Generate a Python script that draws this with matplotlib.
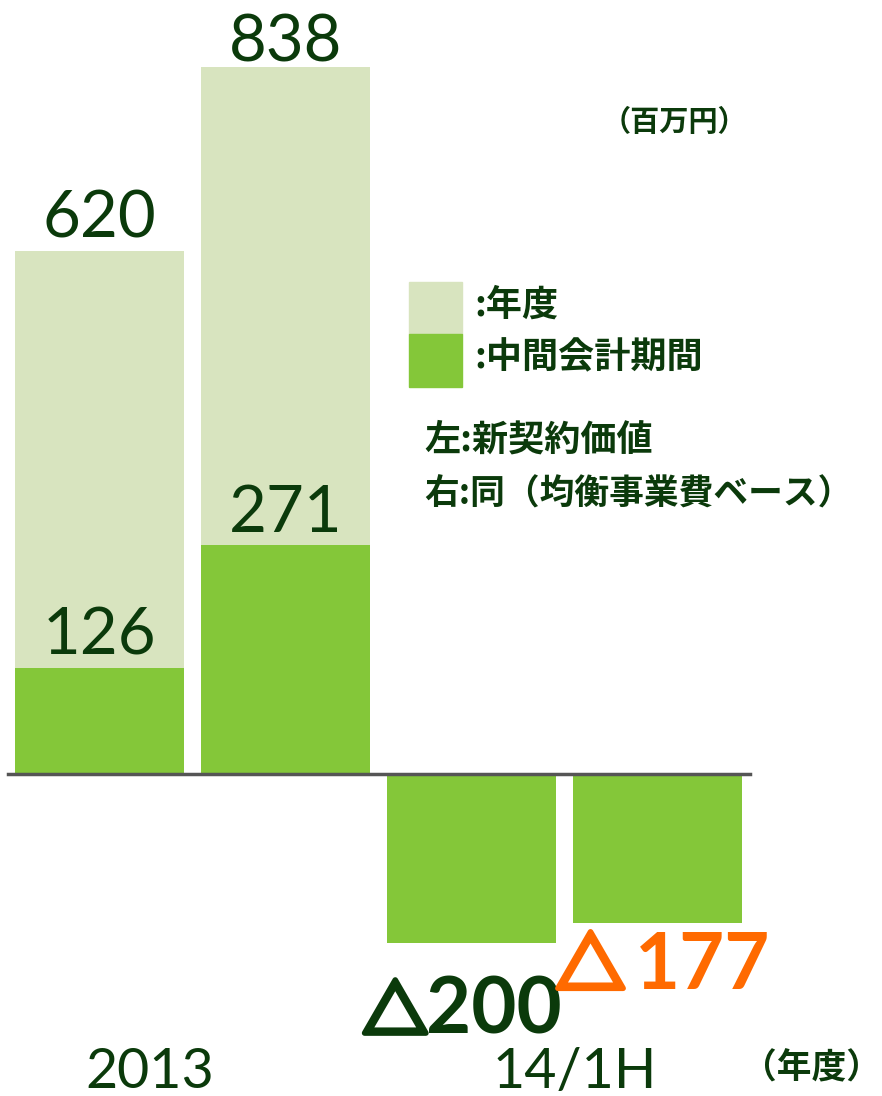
import matplotlib
matplotlib.use("Agg")
import matplotlib.pyplot as plt
from matplotlib.patches import Rectangle
import matplotlib.patheffects as pe

categories = ["2013", "14/1H"]
annual = [620, 838]
interim = [126, 271, -200, -177]
annual_labels = ["620", "838"]
interim_labels = ["126", "271", "200", "177"]

LIGHT = "#D8E4BF"
GREEN = "#84C739"
TEXT = "#0B3A0B"
ORANGE = "#FF6A00"

W, H = 882, 1096
fig = plt.figure(figsize=(W / 100, H / 100), dpi=100)
ax = fig.add_axes([0, 0, 1, 1])

# map data space to the pixel layout of the reference
step = 186.0
x0 = 99.5
scale = 0.8437
base = 774
ax.set_xlim(-x0 / step, (W - x0) / step)
ax.set_ylim(-(H - base) / scale, base / scale)
ax.axis("off")

xs = list(range(len(interim)))
width = 169 / step
ax.bar(range(len(annual)), annual, width=width, color=LIGHT, zorder=1)
ax.bar(xs, interim, width=width, color=GREEN, zorder=2)
ax.plot([(8 - x0) / step, (750 - x0) / step], [0, 0], color="#555555", lw=2.5, zorder=3)

num_font = ["Lato", "Noto Sans CJK JP", "DejaVu Sans"]
cjk = ["Noto Sans CJK JP", "DejaVu Sans"]

gaps = [16, 6]
for i, v in enumerate(annual):
    ax.text(i, v + gaps[i], annual_labels[i], ha="center", va="baseline",
            fontsize=47, color=TEXT, family=num_font)
for i in range(2):
    ax.text(i, interim[i] + 16, interim_labels[i], ha="center", va="baseline",
            fontsize=47, color=TEXT, family=num_font)

# negative values: triangle marker + bold digits
neg_style = [(TEXT, -0.41, 0.12, -308, 47), (ORANGE, -0.36, 0.24, -255, 50)]
for (col, tdx, ndx, ybase, tsize), i in zip(neg_style, [2, 3]):
    ax.text(i + ndx, ybase, interim_labels[i], ha="center", va="baseline",
            fontsize=56, color=col, family=num_font, fontweight="bold")
    ax.text(i + tdx, ybase, "△", ha="center", va="baseline",
            fontsize=tsize, color=col, family=cjk, fontweight="bold",
            path_effects=[pe.withStroke(linewidth=4, foreground=col)])

def px(x, y):
    return x / W, 1 - y / H

fig.text(*px(150, 1088), categories[0], ha="center", va="baseline", fontsize=40, color=TEXT, family=num_font)
fig.text(*px(575, 1088), categories[1], ha="center", va="baseline", fontsize=40, color=TEXT, family=num_font)
fig.text(*px(881, 1068), "（年度）", ha="right", va="center", fontsize=25, color=TEXT,
         family=cjk, fontweight="bold")
fig.text(*px(674, 122), "（百万円）", ha="center", va="center", fontsize=21, color=TEXT,
         family=cjk, fontweight="bold")

# legend
fig.patches.append(Rectangle(px(409, 334), 53 / W, 52 / H, transform=fig.transFigure, color=LIGHT))
fig.patches.append(Rectangle(px(409, 387), 53 / W, 53 / H, transform=fig.transFigure, color=GREEN))
fig.text(*px(474, 305), ":年度", ha="left", va="center", fontsize=26, color=TEXT,
         family=cjk, fontweight="bold")
fig.text(*px(474, 358), ":中間会計期間", ha="left", va="center", fontsize=26, color=TEXT,
         family=cjk, fontweight="bold")
fig.text(*px(424, 440), "左:新契約価値", ha="left", va="center", fontsize=26, color=TEXT,
         family=cjk, fontweight="bold")
fig.text(*px(424, 494), "右:同（均衡事業費ベース）", ha="left", va="center", fontsize=25, color=TEXT,
         family=cjk, fontweight="bold")

fig.savefig("out.png", dpi=100)
